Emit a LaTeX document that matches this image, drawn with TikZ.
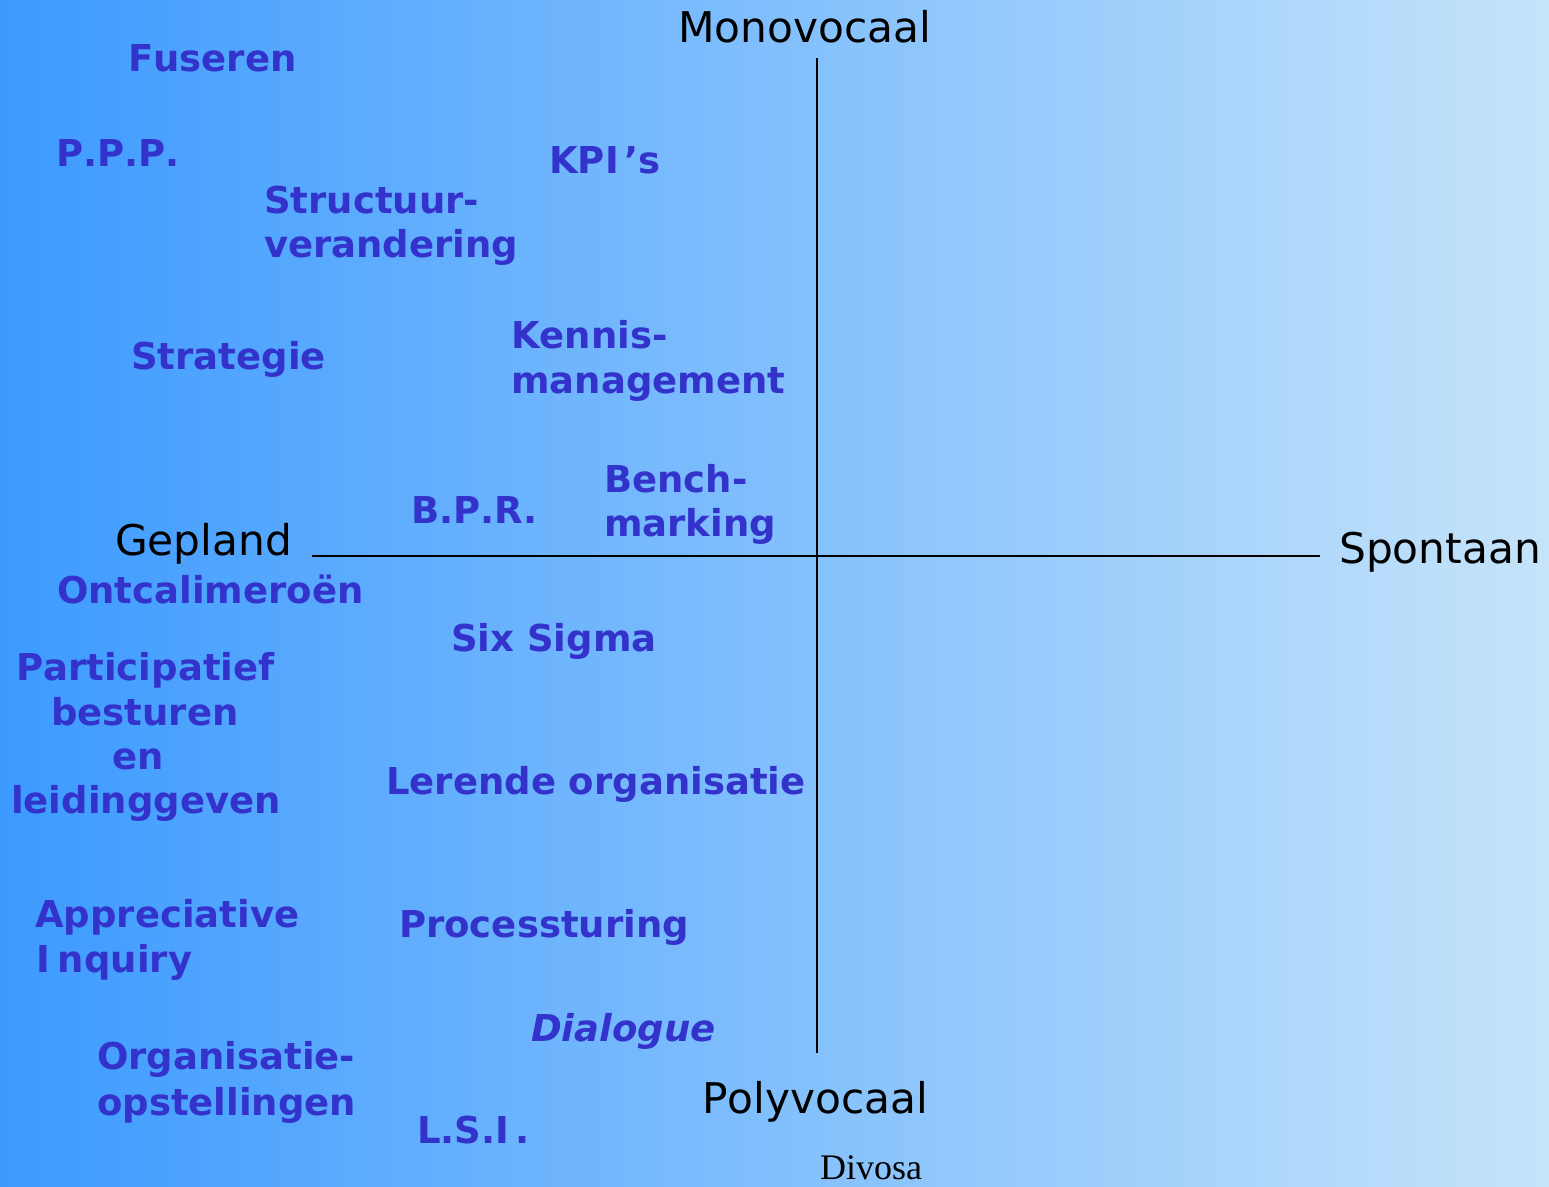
\documentclass[tikz,border=0pt]{standalone}
\usepackage{fontspec}
\setmainfont{DejaVu Sans}[Kerning=Off]
\newfontfamily\timesf{Liberation Serif}
\definecolor{txtblue}{HTML}{3333CC}
\definecolor{bgleft}{HTML}{3C9AFF}
\definecolor{bgright}{HTML}{C6E4FA}
\tikzset{
  item/.style={anchor=base west, inner sep=0pt, text=txtblue,
    font=\fontsize{37}{40}\selectfont\bfseries},
  itemit/.style={item, font=\fontsize{37}{40}\selectfont\bfseries\itshape},
  axislbl/.style={anchor=base west, inner sep=0pt, text=black,
    font=\fontsize{42.3}{45}\selectfont},
  axisline/.style={draw=black, line width=1.6pt},
  credit/.style={anchor=base west, inner sep=0pt, text=black,
    font=\timesf\fontsize{36}{40}\selectfont}
}
\begin{document}
\begin{tikzpicture}[x=1pt,y=-1pt]
\useasboundingbox (0,0) rectangle (1549,1186);
\shade[left color=bgleft, right color=bgright] (0,0) rectangle (1549,1186);

% axes
\coordinate (hL) at (312,556);
\coordinate (hR) at (1320,556);
\coordinate (vT) at (817,58);
\coordinate (vB) at (817,1053);
\draw[axisline] (hL) -- (hR);
\draw[axisline] (vT) -- (vB);

% axis labels
\node[axislbl] (mono) at (678,42) {Monovocaal};
\node[axislbl] (poly) at (702,1113) {Polyvocaal};
\node[axislbl] (gep) at (115,555) {Gepland};
\node[axislbl] (spo) at (1339,563) {Spontaan};
\node[credit] (div) at (820,1179) {Divosa};

% items
\node[item] (fus) at (128,71) {Fuseren};
\node[item] (ppp) at (56,166) {P.P.P.};
\node[item] (kpi) at (549,173) {KPI\kern6pt’s};
\node[item] (str1) at (264,213) {Structuur-};
\node[item] (str2) at (264,257) {verandering};
\node[item] (strat) at (131,369) {Strategie};
\node[item] (ken1) at (511,348) {Kennis-};
\node[item] (ken2) at (511,393) {management};
\node[item] (bpr) at (411,523) {B.P.R.};
\node[item] (ben1) at (604,492) {Bench-};
\node[item] (ben2) at (604,536) {marking};
\node[item] (ont) at (57,603) {Ontcalimeroën};
\node[item] (six) at (451,651) {Six Sigma};
\node[item] (par1) at (16,680) {Participatief};
\node[item] (par2) at (51,725) {besturen};
\node[item] (par3) at (112,769) {en};
\node[item] (par4) at (11,813) {leidinggeven};
\node[item] (ler) at (386,794) {Lerende organisatie};
\node[item] (app1) at (35,927) {Appreciative};
\node[item] (app2) at (36,972) {I\kern8pt nquiry};
\node[item] (proc) at (399,937) {Processturing};
\node[itemit] (dia) at (531,1041) {Dialogue};
\node[item] (org1) at (97,1069) {Organisatie-};
\node[item] (org2) at (97,1115) {opstellingen};
\node[item] (lsi) at (417,1143) {L.S.I\kern6pt.};
\end{tikzpicture}
\end{document}
